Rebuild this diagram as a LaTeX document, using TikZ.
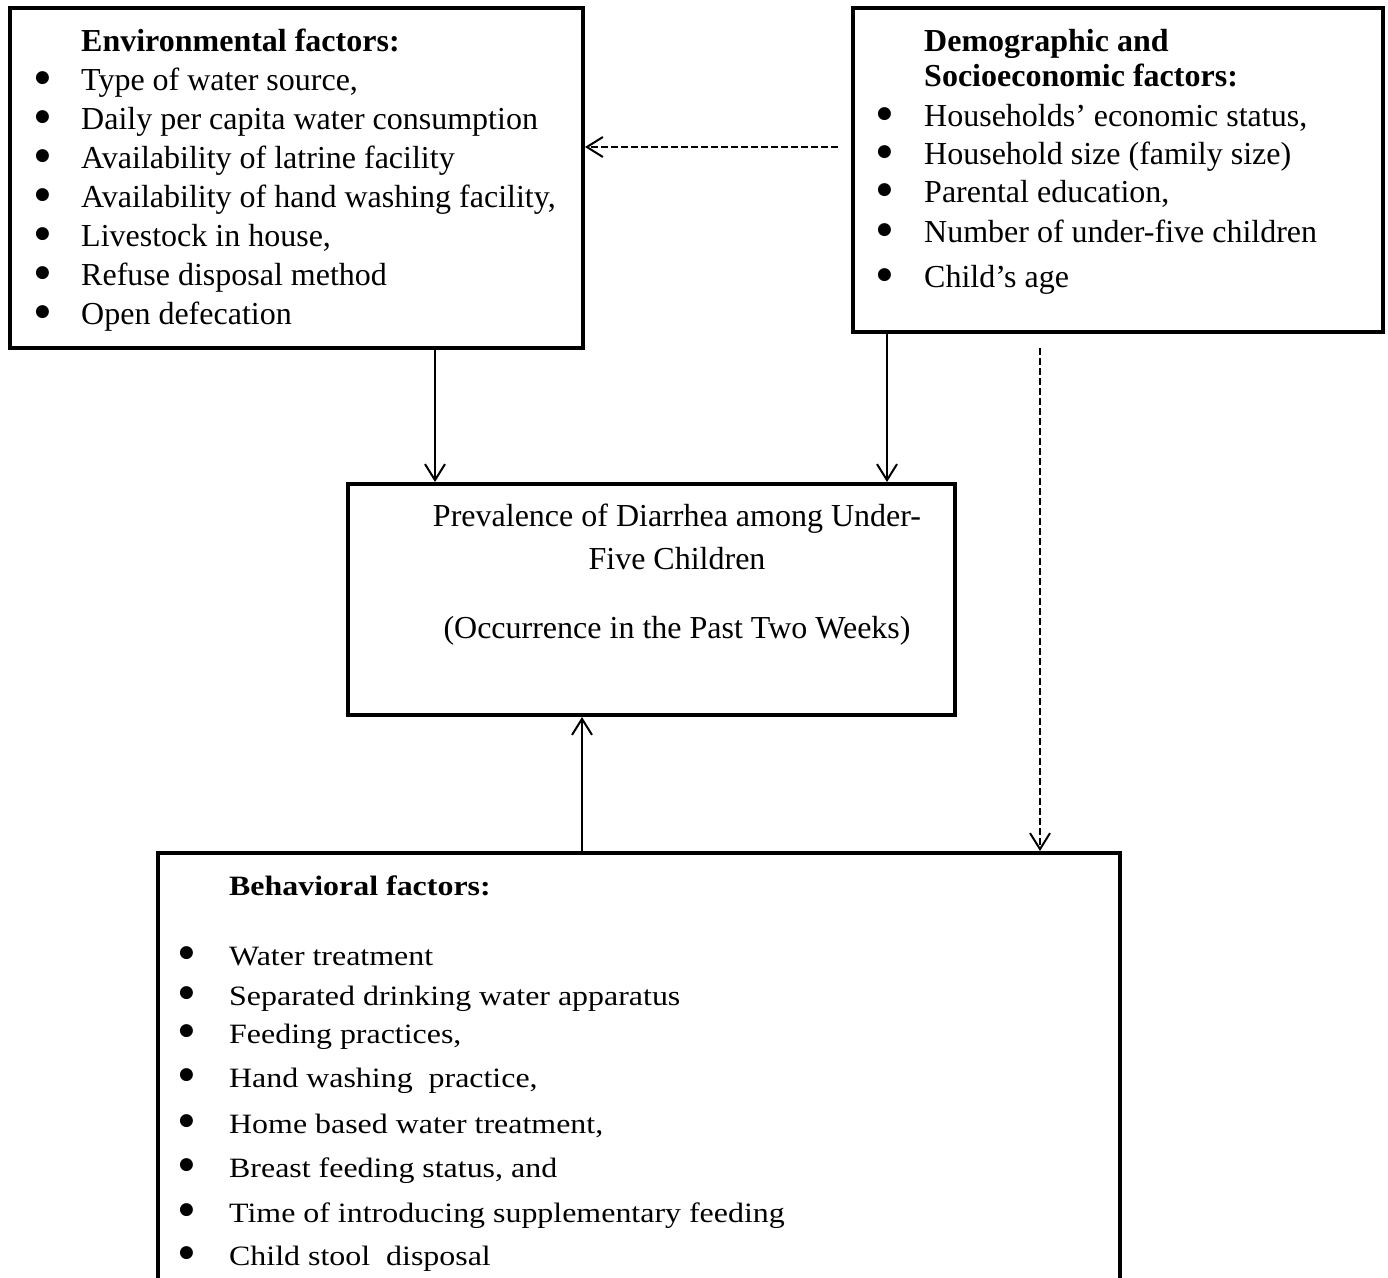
\documentclass[tikz,border=0pt]{standalone}
\usepackage{fontspec}
\setmainfont{Liberation Serif}
\newfontfamily\wideserif{Liberation Serif}[FakeStretch=1.14]
\newfontfamily\dotfont{DejaVu Sans}
\usetikzlibrary{arrows.meta,positioning,calc}
\newcommand{\bulitem}[2][47pt]{\makebox[#1][l]{\hspace*{1pt}\raisebox{8pt}[0pt][0pt]{\dotfont\fontsize{17}{17}\selectfont ●}}#2}

\begin{document}
\begin{tikzpicture}[
  x=1pt, y=-1pt,
  font=\fontsize{32}{39}\selectfont,
  frame/.style={draw=black, line width=4pt, inner sep=0pt},
  entry/.style={anchor=base west, inner sep=0pt, text height=23pt, text depth=7pt},
  centre/.style={anchor=base, inner sep=0pt},
  arrow/.style={-{Straight Barb[length=16pt,width=20pt,line width=2pt]}, line width=2pt},
  dasharrow/.style={arrow, dash pattern=on 7pt off 3pt}
]
\useasboundingbox (0,0) rectangle (1388,1277);

\node[frame, minimum width=573pt, minimum height=340pt] (env) at (296.5,178) {};
\node[frame, minimum width=530pt, minimum height=324pt] (demo) at (1118,170) {};
\node[frame, minimum width=607pt, minimum height=231pt] (prev) at (651.5,599.5) {};
\node[frame, minimum width=962pt, minimum height=480pt] (beh) at (639,1093) {};

\node[entry] (envhead) at (81,51) {\textbf{Environmental factors:}};
\foreach \txt [count=\i] in {{Type of water source,}, {Daily per capita water consumption},
    {Availability of latrine facility}, {Availability of hand washing facility,},
    {Livestock in house,}, {Refuse disposal method}, {Open defecation}}
  \node[entry] (envitem\i) at (34,51+39*\i) {\bulitem{\txt}};

\node[entry] (demohead) at (924,51) {\textbf{Demographic and}};
\node[entry] (demohead2) at (924,86) {\textbf{Socioeconomic factors:}};
\foreach \y/\txt [count=\i] in {126/{Households’ economic status,}, 164/{Household size (family size)},
    202/{Parental education,}, 242/{Number of under-five children}, 287/{Child’s age}}
  \node[entry] (demoitem\i) at (876,\y) {\bulitem[48pt]{\txt}};

\node[centre] (prevline1) at (677,526) {Prevalence of Diarrhea among Under-};
\node[centre] (prevline2) at (677,569) {Five Children};
\node[centre] (prevline3) at (677,638) {(Occurrence in the Past Two Weeks)};

\begin{scope}[font=\fontsize{28}{39}\wideserif]
\node[entry] (behhead) at (229,895) {\textbf{Behavioral factors:}};
\foreach \y/\txt [count=\i] in {965/{Water treatment}, 1005/{Separated drinking water apparatus},
    1043/{Feeding practices,}, 1087/{Hand washing~ practice,}, 1133/{Home based water treatment,},
    1177/{Breast feeding status, and}, 1222/{Time of introducing supplementary feeding},
    1265/{Child stool~ disposal}}
  \node[entry] (behitem\i) at (178,\y) {\bulitem[51pt]{\txt}};
\end{scope}

\coordinate (envout) at ([xshift=138.5pt]env.south);
\coordinate (demoout) at ([xshift=-231pt]demo.south);
\coordinate (behout) at ([xshift=-57pt]beh.north);
\coordinate (dashh) at (838,147);
\coordinate (dashv) at (1040,348);
\draw[arrow] (envout) -- (envout |- prev.north);
\draw[arrow] (demoout) -- (demoout |- prev.north);
\draw[arrow] (behout) -- (behout |- prev.south);
\draw[dasharrow] (dashh) -- (dashh -| env.east);
\draw[dasharrow] (dashv) -- (dashv |- beh.north);
\end{tikzpicture}
\end{document}
